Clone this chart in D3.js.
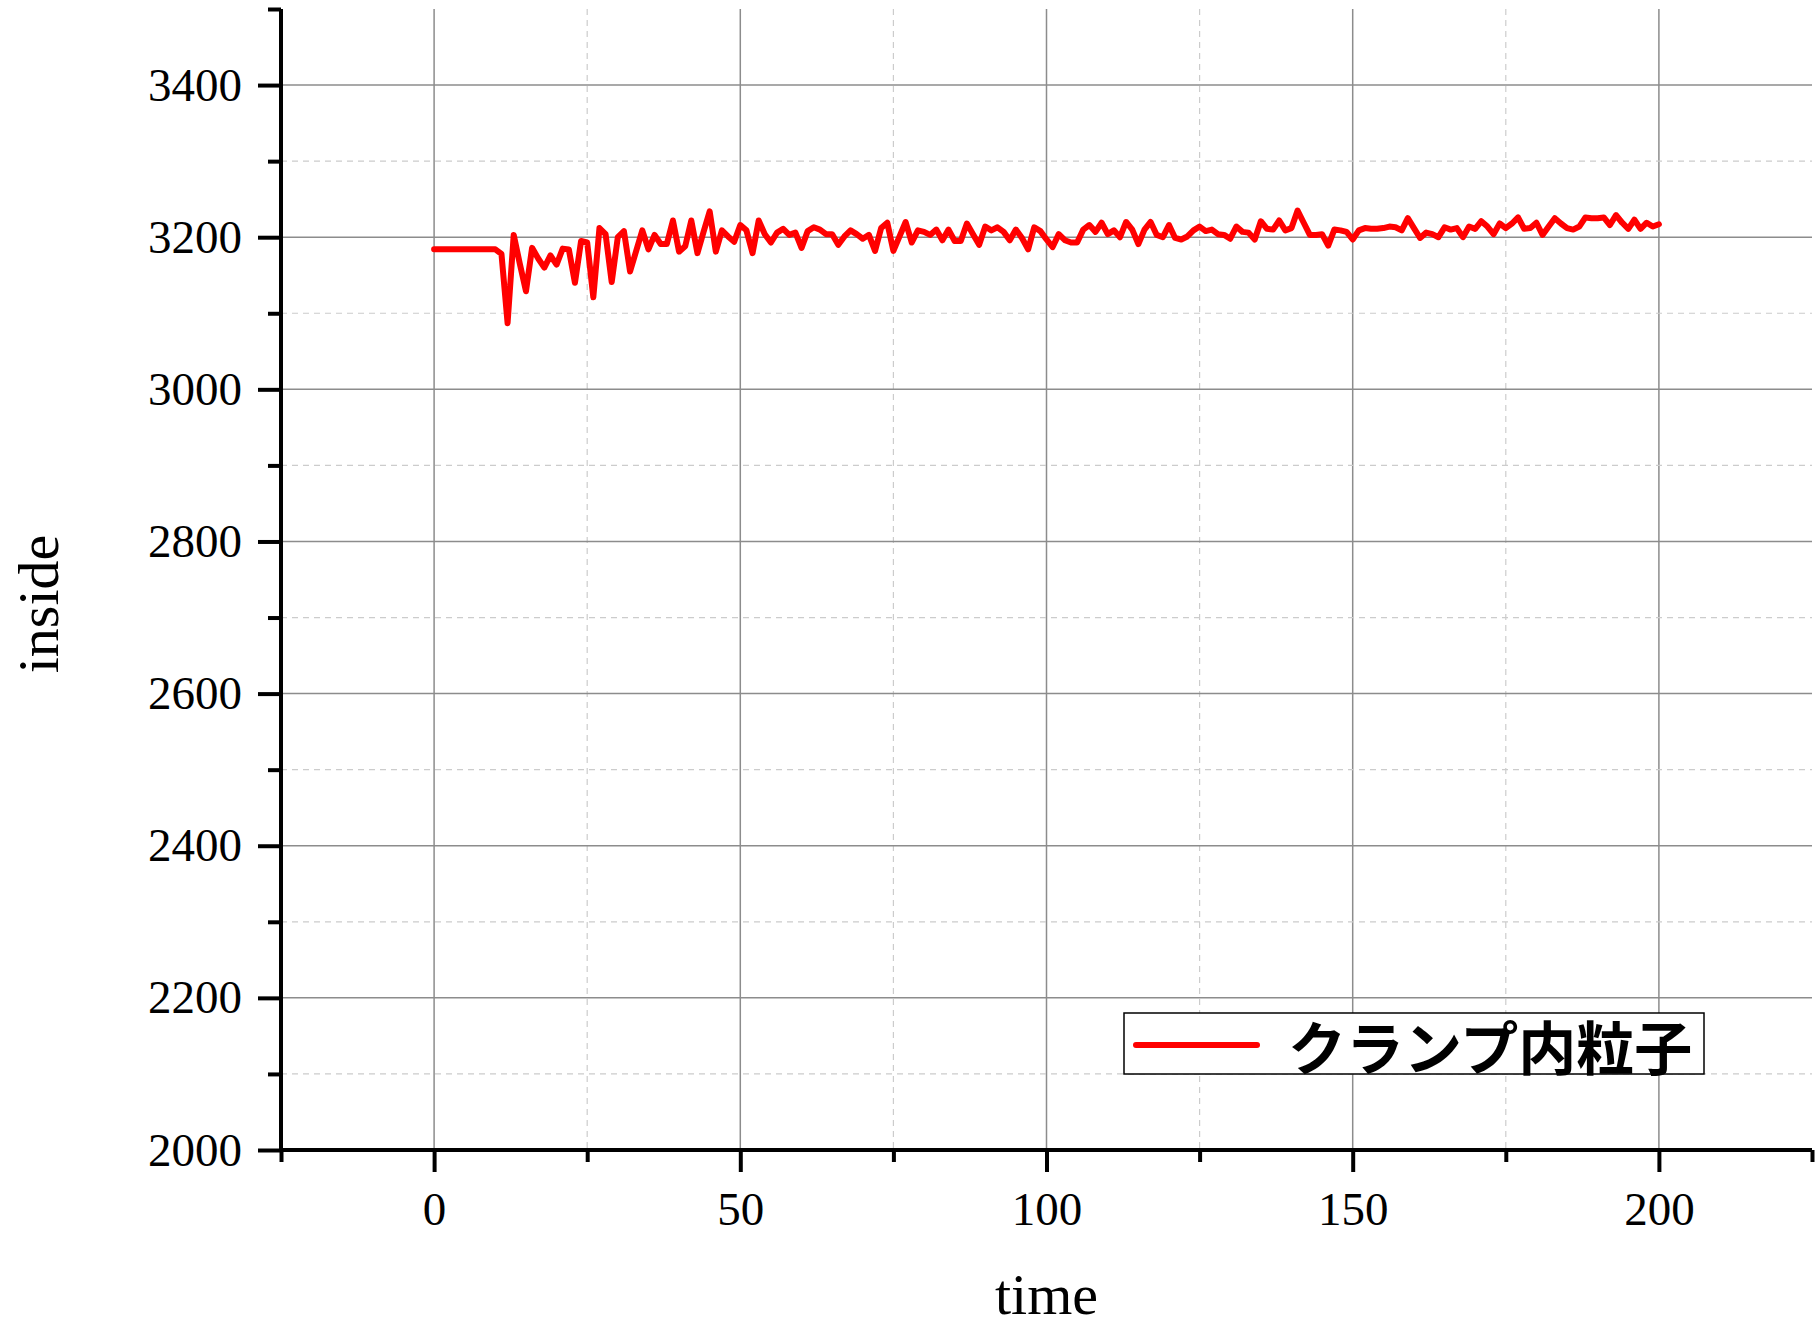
<!DOCTYPE html>
<html>
<head>
<meta charset="utf-8">
<script src="https://cdn.jsdelivr.net/npm/d3@7/dist/d3.min.js"></script>
<style>
  html, body { margin: 0; padding: 0; background: #fff; }
  svg { display: block; }
</style>
</head>
<body>
<svg id="chart" width="1818" height="1328"></svg>
<script>
// Particle count inside the clamp, one sample per time step
const timeSteps = d3.range(0, 201);
const insideCounts = [
  3184, 3184, 3184, 3184, 3184, 3184, 3184, 3184, 3184, 3184,
  3184, 3178, 3087, 3203, 3165, 3129, 3186, 3172, 3160, 3176,
  3164, 3185, 3184, 3140, 3195, 3193, 3121, 3212, 3204, 3141,
  3200, 3208, 3155, 3182, 3209, 3184, 3203, 3191, 3191, 3222,
  3181, 3188, 3222, 3179, 3207, 3234, 3181, 3209, 3201, 3194,
  3216, 3209, 3179, 3222, 3204, 3193, 3206, 3211, 3203, 3206,
  3186, 3208, 3213, 3210, 3204, 3204, 3190, 3201, 3209, 3204,
  3198, 3203, 3182, 3212, 3219, 3182, 3201, 3220, 3193, 3209,
  3207, 3203, 3210, 3196, 3210, 3195, 3195, 3218, 3204, 3190,
  3214, 3209, 3213, 3207, 3196, 3210, 3199, 3184, 3213, 3208,
  3197, 3187, 3204, 3196, 3193, 3193, 3210, 3216, 3207, 3219,
  3204, 3209, 3200, 3220, 3210, 3191, 3210, 3220, 3203, 3200,
  3216, 3199, 3197, 3201, 3209, 3214, 3208, 3210, 3204, 3203,
  3198, 3214, 3207, 3206, 3197, 3221, 3211, 3210, 3222, 3209,
  3212, 3235, 3219, 3203, 3203, 3204, 3189, 3210, 3209, 3207,
  3197, 3209, 3212, 3211, 3211, 3212, 3214, 3213, 3209, 3225,
  3212, 3199, 3206, 3204, 3200, 3213, 3210, 3212, 3200, 3214,
  3211, 3221, 3214, 3204, 3218, 3212, 3218, 3226, 3211, 3212,
  3219, 3203, 3214, 3225, 3218, 3212, 3210, 3214, 3226, 3225,
  3225, 3226, 3216, 3229, 3219, 3211, 3223, 3211, 3219, 3214,
  3217
];
const seriesName = "クランプ内粒子";

const xMajorTicks = [0, 50, 100, 150, 200];
const xMinorTicks = [-25, 25, 75, 125, 175, 225];
const yMajorTicks = [2000, 2200, 2400, 2600, 2800, 3000, 3200, 3400];
const yMinorTicks = [2100, 2300, 2500, 2700, 2900, 3100, 3300, 3500];

const xTitle = "time";
const yTitle = "inside";

const svg = d3.select("#chart");
const plotLeft = 281, plotRight = 1812, plotTop = 9, plotBottom = 1150;

const x = d3.scaleLinear().domain([-25, 225]).range([plotLeft, plotRight]);
const y = d3.scaleLinear().domain([2000, 3500]).range([plotBottom, plotTop]);

const serif = "'Liberation Serif', 'Times New Roman', serif";

// grid: solid at major ticks, dashed at minor ticks
const grid = svg.append("g");
grid.selectAll("line.xmaj").data(xMajorTicks).join("line")
  .attr("x1", d => x(d)).attr("x2", d => x(d)).attr("y1", plotTop).attr("y2", plotBottom)
  .attr("stroke", "#8c8c8c").attr("stroke-width", 1.5);
grid.selectAll("line.xmin").data(xMinorTicks.filter(d => d > -25 && d < 225)).join("line")
  .attr("x1", d => x(d)).attr("x2", d => x(d)).attr("y1", plotTop).attr("y2", plotBottom)
  .attr("stroke", "#cccccc").attr("stroke-width", 1.2).attr("stroke-dasharray", "6,5");
grid.selectAll("line.ymaj").data(yMajorTicks.filter(d => d > 2000)).join("line")
  .attr("x1", plotLeft).attr("x2", plotRight).attr("y1", d => y(d)).attr("y2", d => y(d))
  .attr("stroke", "#8c8c8c").attr("stroke-width", 1.5);
grid.selectAll("line.ymin").data(yMinorTicks.filter(d => d < 3500)).join("line")
  .attr("x1", plotLeft).attr("x2", plotRight).attr("y1", d => y(d)).attr("y2", d => y(d))
  .attr("stroke", "#cccccc").attr("stroke-width", 1.2).attr("stroke-dasharray", "6,5");

// axes
const xAxis = d3.axisBottom(x).tickValues(xMajorTicks).tickSize(22).tickPadding(20)
  .tickFormat(d3.format("d"));
const gx = svg.append("g").attr("transform", `translate(0,${plotBottom})`).call(xAxis);
gx.select(".domain").remove();
gx.selectAll(".tick line").attr("stroke", "#000").attr("stroke-width", 4);
gx.selectAll(".tick text").attr("font-family", serif).attr("font-size", 47).attr("fill", "#000");
const gxMinor = svg.append("g").attr("transform", `translate(0,${plotBottom})`)
  .call(d3.axisBottom(x).tickValues(xMinorTicks).tickSize(12).tickFormat(""));
gxMinor.select(".domain").remove();
gxMinor.selectAll(".tick line").attr("stroke", "#000").attr("stroke-width", 4);

const yAxis = d3.axisLeft(y).tickValues(yMajorTicks).tickSize(23).tickPadding(16)
  .tickFormat(d3.format("d"));
const gy = svg.append("g").attr("transform", `translate(${plotLeft},0)`).call(yAxis);
gy.select(".domain").remove();
gy.selectAll(".tick line").attr("stroke", "#000").attr("stroke-width", 4);
gy.selectAll(".tick text").attr("font-family", serif).attr("font-size", 47).attr("fill", "#000");
const gyMinor = svg.append("g").attr("transform", `translate(${plotLeft},0)`)
  .call(d3.axisLeft(y).tickValues(yMinorTicks).tickSize(13).tickFormat(""));
gyMinor.select(".domain").remove();
gyMinor.selectAll(".tick line").attr("stroke", "#000").attr("stroke-width", 4);

// axis lines
svg.append("line").attr("x1", plotLeft).attr("x2", plotRight).attr("y1", plotBottom).attr("y2", plotBottom)
  .attr("stroke", "#000").attr("stroke-width", 4);
svg.append("line").attr("x1", plotLeft).attr("x2", plotLeft).attr("y1", plotTop).attr("y2", plotBottom)
  .attr("stroke", "#000").attr("stroke-width", 4);

// data line
const line = d3.line().x((d, i) => x(timeSteps[i])).y(d => y(d));
svg.append("path").datum(insideCounts)
  .attr("d", line).attr("fill", "none").attr("stroke", "#ff0000")
  .attr("stroke-width", 6).attr("stroke-linejoin", "round").attr("stroke-linecap", "round");

// axis titles
svg.append("text").attr("x", (plotLeft + plotRight) / 2).attr("y", 1314)
  .attr("text-anchor", "middle").attr("font-family", serif).attr("font-size", 58)
  .text(xTitle);
svg.append("text").attr("transform", "translate(58,604) rotate(-90)")
  .attr("text-anchor", "middle").attr("font-family", serif).attr("font-size", 58)
  .text(yTitle);

// legend
const lg = svg.append("g");
lg.append("rect").attr("x", 1124).attr("y", 1013).attr("width", 580).attr("height", 61)
  .attr("fill", "#fff").attr("stroke", "#000").attr("stroke-width", 1.5);
lg.append("line").attr("x1", 1136).attr("x2", 1257).attr("y1", 1045).attr("y2", 1045)
  .attr("stroke", "#ff0000").attr("stroke-width", 6).attr("stroke-linecap", "round");
lg.append("text").attr("x", 1288).attr("y", 1045).attr("dominant-baseline", "central")
  .attr("font-family", "'Noto Sans CJK JP', sans-serif").attr("font-weight", "bold")
  .attr("font-size", 58).text(seriesName);
</script>
</body>
</html>
